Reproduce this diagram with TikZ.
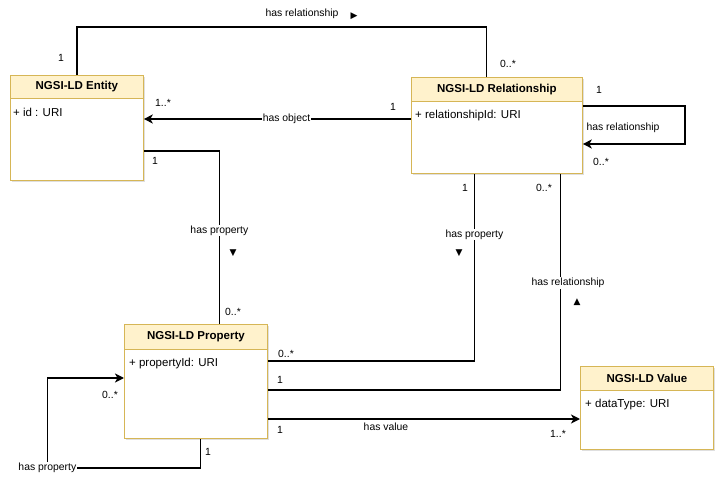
\documentclass[tikz,border=0pt]{standalone}
\usepackage{fontspec}
\setmainfont{Liberation Sans}
\newfontfamily\symfont{DejaVu Sans}
\usetikzlibrary{arrows.meta, shadows}
\definecolor{headfill}{HTML}{FFF2CC}
\definecolor{boxline}{HTML}{D6B656}

\tikzset{
  classbox/.style={draw=boxline, fill=white, line width=0.8pt, anchor=north west, inner sep=0pt,
    drop shadow={shadow xshift=1.5pt, shadow yshift=-1.5pt, opacity=0.25}},
  headbox/.style={draw=boxline, fill=headfill, line width=0.8pt, anchor=north west, inner sep=0pt,
    font=\fontsize{11.5}{13}\selectfont\bfseries},
  attr/.style={anchor=north west, inner sep=0pt, font=\fontsize{11.5}{13}\selectfont},
  assoc/.style={line width=1.6pt},
  assocarrow/.style={line width=1.6pt, -{Stealth[length=9pt, width=9pt, inset=2.5pt]}},
  mult/.style={inner sep=0pt, font=\fontsize{10.4}{12}\selectfont},
  linelabel/.style={inner sep=1pt, fill=white, font=\fontsize{10.4}{12}\selectfont},
  dirmark/.style={inner sep=0pt, font=\symfont\fontsize{9}{10}\selectfont}
}

\begin{document}
\begin{tikzpicture}[x=1pt, y=-1pt]
\useasboundingbox (0,0) rectangle (723,478);

% classes
\node[classbox, minimum width=133pt, minimum height=105pt] (entity) at (10,75) {};
\node[headbox, minimum width=133pt, minimum height=23pt] (entityhead) at (entity.north west) {NGSI-LD Entity};
\node[attr] (entityattr) at ([xshift=3pt, yshift=-9pt]entityhead.south west) {+ id : URI};

\node[classbox, minimum width=171pt, minimum height=96pt] (rel) at (411,77) {};
\node[headbox, minimum width=171pt, minimum height=24pt] (relhead) at (rel.north west) {NGSI-LD Relationship};
\node[attr] (relattr) at ([xshift=4pt, yshift=-8pt]relhead.south west) {+ relationshipId: URI};

\node[classbox, minimum width=143pt, minimum height=114pt] (prop) at (124,324) {};
\node[headbox, minimum width=143pt, minimum height=25pt] (prophead) at (prop.north west) {NGSI-LD Property};
\node[attr] (propattr) at ([xshift=5pt, yshift=-8pt]prophead.south west) {+ propertyId: URI};

\node[classbox, minimum width=133pt, minimum height=83pt] (value) at (580,366) {};
\node[headbox, minimum width=133pt, minimum height=24pt] (valuehead) at (value.north west) {NGSI-LD Value};
\node[attr] (valueattr) at ([xshift=5pt, yshift=-8pt]valuehead.south west) {+ dataType: URI};

% entity -- relationship (top)
\draw[assoc] (entity.north) -- ++(0,-48) -| ([xshift=-10.5pt]rel.north);
\node[mult] (m1) at (61,58) {1};
\node[mult] (m2) at (508,64) {0..*};
\node[linelabel, fill=none] (l1) at (302,14) {has relationship};
\node[dirmark] (d1) at (354,16) {▶};

% has object
\draw[assocarrow] ([yshift=-42pt]rel.north west)
  -- node[linelabel, pos=0.466] (l2) {has object} ([yshift=-42pt]rel.north west -| entity.east);
\node[mult] (m3) at (393,107) {1};
\node[mult] (m4) at (163,103) {1..*};

% relationship self loop
\draw[assocarrow] ([yshift=-29pt]rel.north east) -- ++(102,0) |- ([yshift=-67pt]rel.north east);
\node[mult] (m5) at (599,90) {1};
\node[mult] (m6) at (601,162) {0..*};
\node[linelabel, fill=none] (l3) at (623,128) {has relationship};

% entity -- property
\draw[assoc] ([yshift=-76pt]entity.north east) -| ([xshift=23.5pt]prop.north)
  node[linelabel, pos=0.73] (l4) {has property};
\node[mult] (m7) at (155,161) {1};
\node[mult] (m8) at (233,312) {0..*};
\node[dirmark] (d4) at (233,253) {▼};

% relationship -- property (has property)
\draw[assoc] ([xshift=-22.5pt]rel.south) |- ([yshift=-37pt]prop.north east)
  node[linelabel, pos=0.162] (l5) {has property};
\node[mult] (m9) at (465,188) {1};
\node[mult] (m10) at (286,354) {0..*};
\node[dirmark] (d5) at (459,253) {▼};

% relationship -- property (has relationship)
\draw[assoc] ([xshift=63.5pt]rel.south) |- ([yshift=-66pt]prop.north east);
\node[linelabel] (l6) at (568,283) {has relationship};
\node[mult] (m11) at (544,188) {0..*};
\node[mult] (m12) at (280,380) {1};
\node[dirmark] (d6) at (577,302) {▲};

% has value
\draw[assocarrow] ([yshift=-95pt]prop.north east) -- ([yshift=-53pt]value.north west);
\node[mult] (m13) at (280,430) {1};
\node[mult] (m14) at (558,434) {1..*};
\node[linelabel, fill=none] (l7) at (386,427) {has value};

% property self loop
\draw[assocarrow] ([xshift=4.5pt]prop.south) -- ++(0,29) -- ++(-153,0)
  node[linelabel, inner sep=0.5pt] (l8) {has property} |- ([yshift=-54pt]prop.north west);
\node[mult] (m15) at (208,452) {1};
\node[mult] (m16) at (110,395) {0..*};

\end{tikzpicture}
\end{document}
